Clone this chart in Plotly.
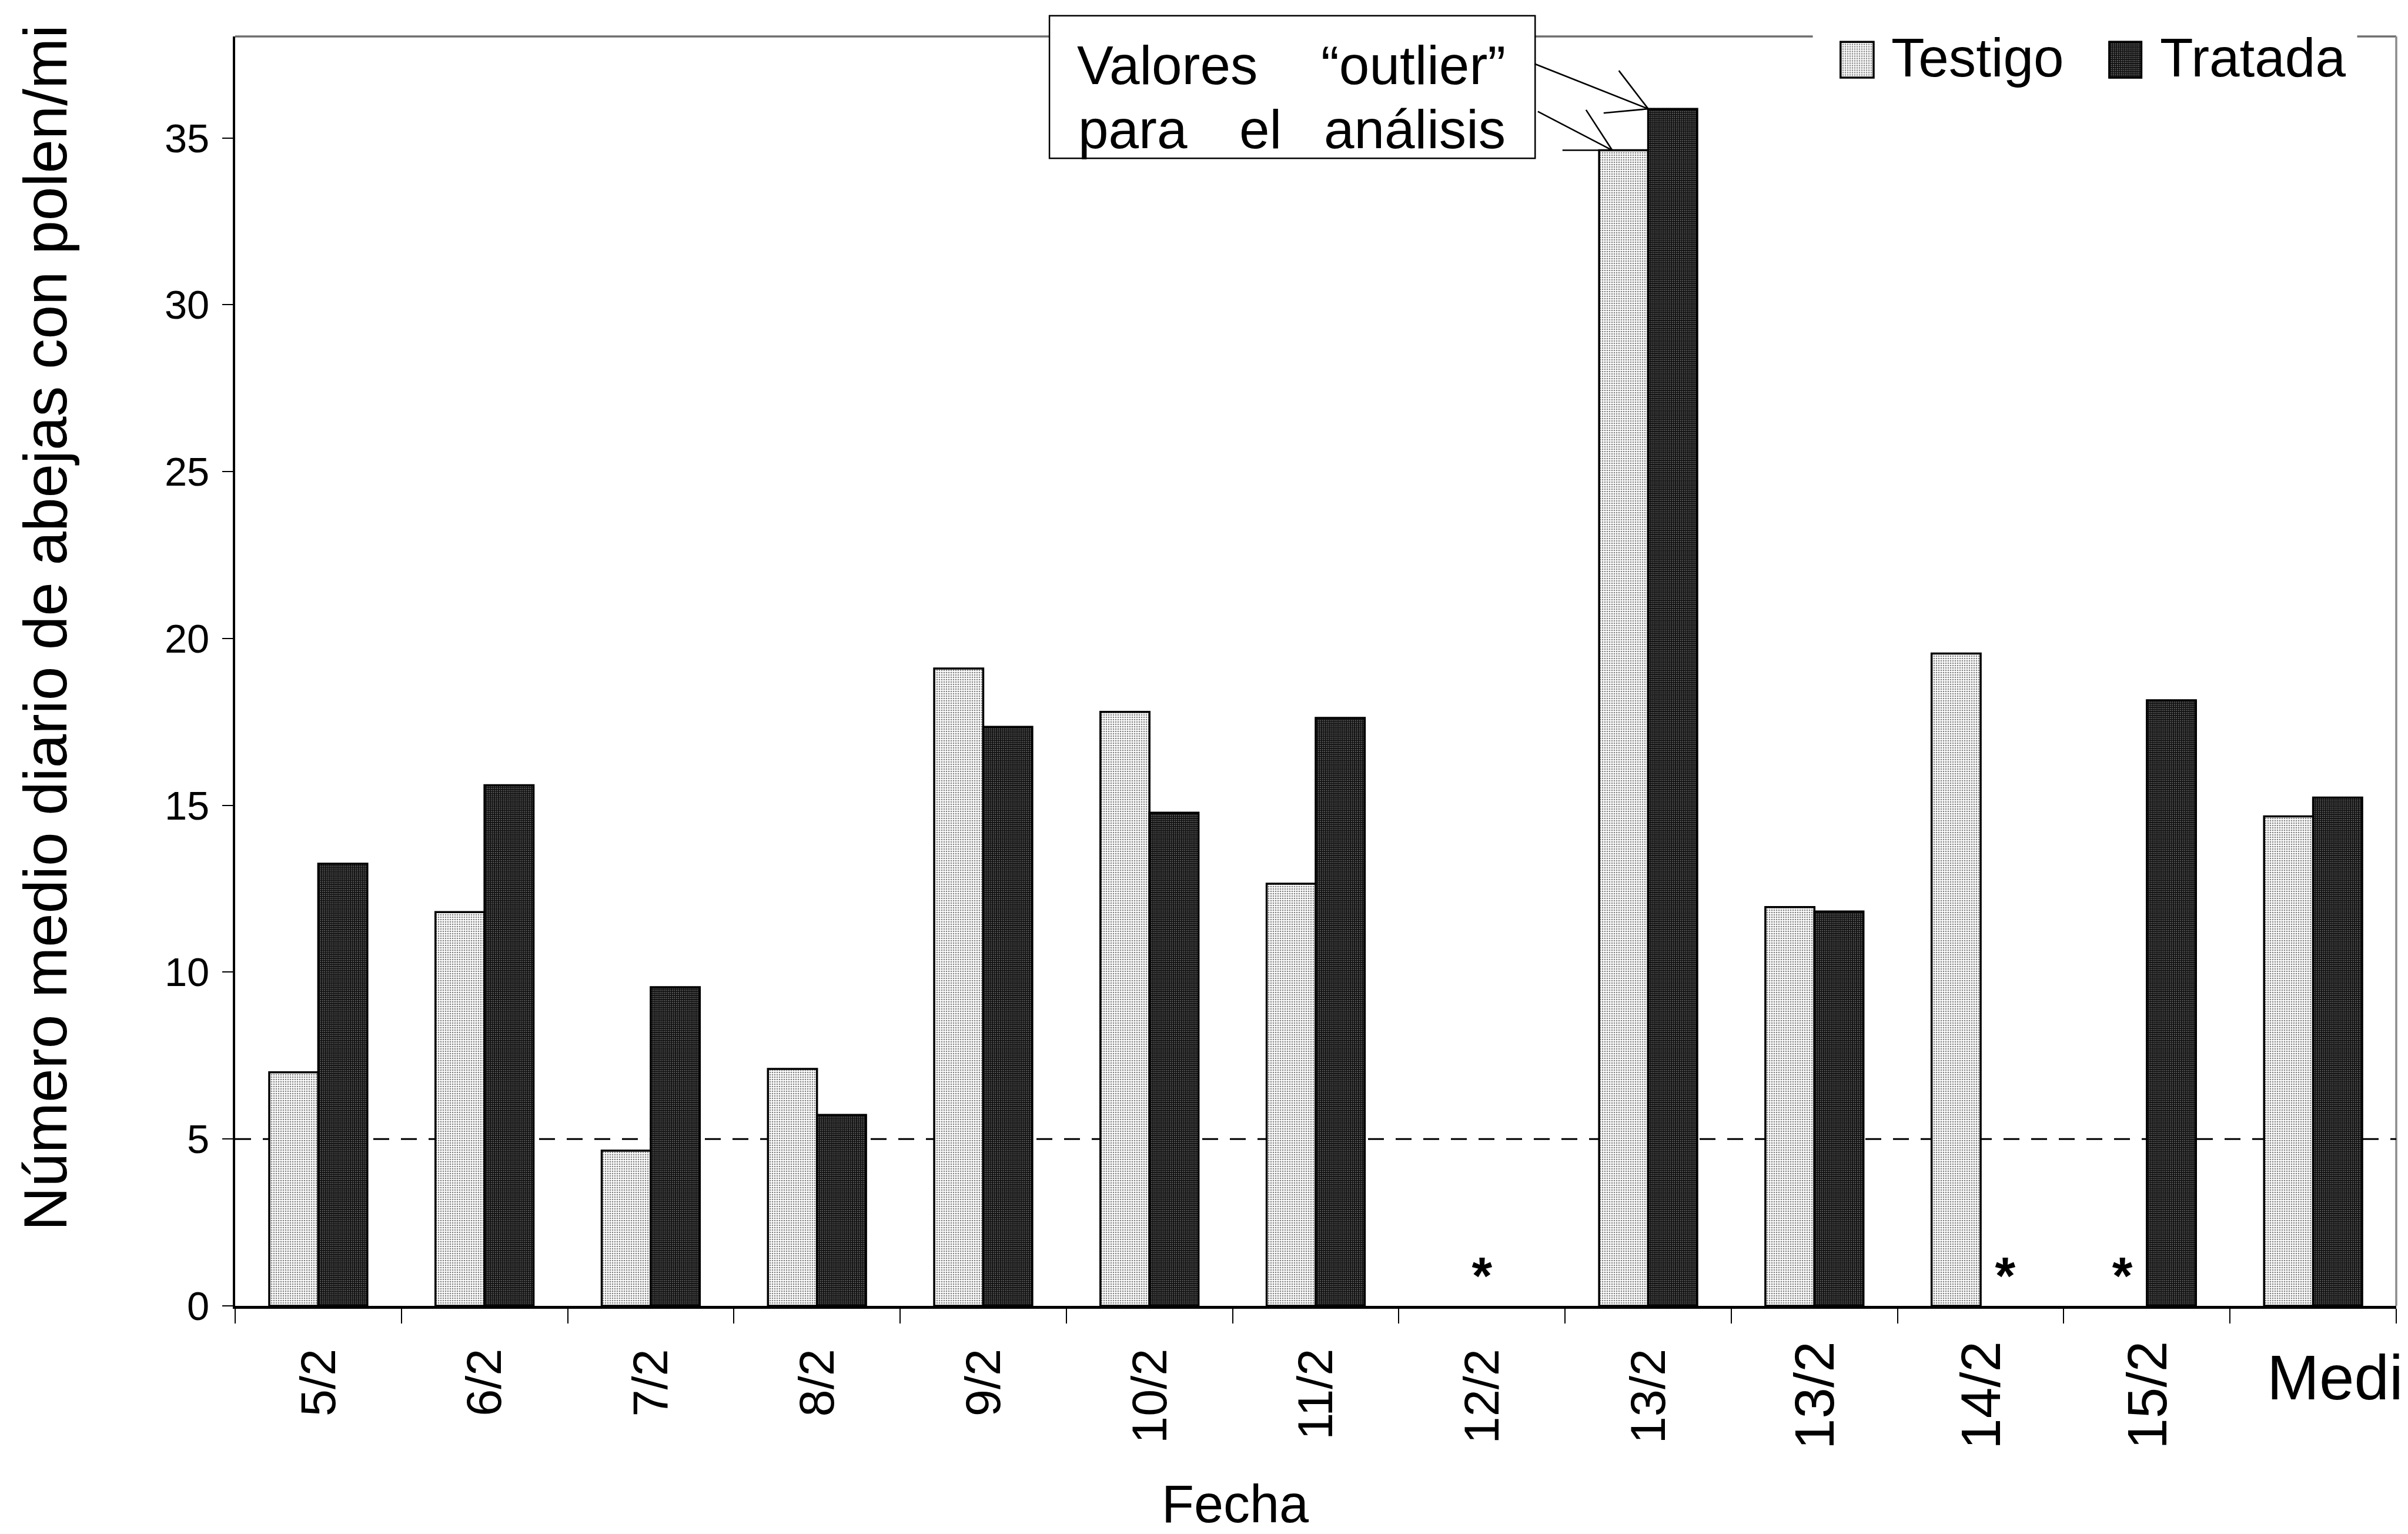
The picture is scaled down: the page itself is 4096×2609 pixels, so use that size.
import plotly.graph_objects as go

# ---- data -------------------------------------------------------------
fechas = ["5/2", "6/2", "7/2", "8/2", "9/2", "10/2", "11/2", "12/2",
          "13/2", "13/2", "14/2", "15/2", "Medi"]
testigo = [7.0, 11.8, 4.65, 7.1, 19.1, 17.8, 12.65, None,
           34.63, 11.95, 19.55, None, 14.67]
tratada = [13.25, 15.6, 9.55, 5.72, 17.35, 14.78, 17.62, None,
           35.87, 11.82, None, 18.15, 15.23]
y_ticks = [0, 5, 10, 15, 20, 25, 30, 35]
umbral = 5
y_max = 38.04

# ---- canvas geometry ----------------------------------------------------
W, H = 4096, 2609
S = W / 4596.0                     # drawing scale
ML, MR, MT, MB = 400, 20, 62, 388  # plot margins (px)
PW, PH = W - ML - MR, H - MT - MB
n = len(fechas)
UX = PW / n / S                    # unscaled px per category
UY = PH / y_max / S                # unscaled px per y unit
BARGAP = 0.41
BW = (1 - BARGAP) / 2              # width of one bar in category units

FONT = "Liberation Sans, Arial, sans-serif"


def fx(p):
    """horizontal position (unscaled px) -> paper fraction"""
    return (p * S - ML) / PW


def fy(p):
    """vertical position (unscaled px from top) -> paper fraction"""
    return 1 - (p * S - MT) / PH


def fs(em):
    return em * S


idx = list(range(n))
fig = go.Figure()

PAT_TESTIGO = dict(shape=".", fgcolor="black", bgcolor="white", size=4, solidity=0.33)
PAT_TRATADA = dict(shape=".", fgcolor="white", bgcolor="#111111", size=3.5, solidity=0.22)

fig.add_trace(go.Bar(
    x=idx, y=testigo, name="Testigo", showlegend=False,
    marker=dict(color="white", line=dict(color="black", width=3.5), pattern=PAT_TESTIGO),
))
fig.add_trace(go.Bar(
    x=idx, y=tratada, name="Tratada", showlegend=False,
    marker=dict(color="#111111", line=dict(color="black", width=3.5), pattern=PAT_TRATADA),
))

# asterisks where a value is missing
ast_x, ast_y = [], []
for i in idx:
    a, b = testigo[i], tratada[i]
    if a is None and b is None:
        ast_x.append(i)
    elif a is None:
        ast_x.append(i - BW / 2)
    elif b is None:
        ast_x.append(i + BW / 2)
    else:
        continue
    ast_y.append(0.77)
fig.add_trace(go.Scatter(
    x=ast_x, y=ast_y, mode="text", text=["*"] * len(ast_x),
    textposition="middle center", cliponaxis=False, showlegend=False,
    textfont=dict(family=FONT, size=fs(100), color="black", weight="bold"),
))

# legend swatches: one-bar mini subplots
sw_boxes = {"Testigo": (3507, 3582), "Tratada": (4020, 4093)}
sw_top, sw_bot = 74, 154
sw_style = {
    "Testigo": dict(color="white", pattern=PAT_TESTIGO),
    "Tratada": dict(color="#111111", pattern=PAT_TRATADA),
}
for k, (name, (x0, x1)) in enumerate(sw_boxes.items(), start=2):
    inset = 4
    fig.add_trace(go.Bar(
        x=[0], y=[1], width=[1], showlegend=False, cliponaxis=False,
        xaxis=f"x{k}", yaxis=f"y{k}", hoverinfo="skip",
        marker=dict(line=dict(color="black", width=7), **sw_style[name]),
    ))
    fig.layout[f"xaxis{k}"] = dict(domain=[fx(x0 + inset), fx(x1 - inset)], range=[-0.5, 0.5],
                                   visible=False, anchor=f"y{k}")
    fig.layout[f"yaxis{k}"] = dict(domain=[fy(sw_bot - inset), fy(sw_top + inset)], range=[0, 1],
                                   visible=False, anchor=f"x{k}")

shapes = []
# frame: top and right borders
shapes.append(dict(type="line", xref="paper", yref="paper", x0=0, x1=1, y0=1, y1=1,
                   line=dict(color="#6e6e6e", width=3.5), layer="below"))
shapes.append(dict(type="line", xref="paper", yref="paper", x0=1, x1=1, y0=0, y1=1,
                   line=dict(color="#8c8c8c", width=3.5), layer="below"))
# reference level
shapes.append(dict(type="line", xref="paper", yref="y", x0=0, x1=1, y0=umbral, y1=umbral,
                   line=dict(color="black", width=3, dash="27px,20px"), layer="below"))
# legend background
shapes.append(dict(type="rect", xref="paper", yref="paper",
                   x0=fx(3460), x1=fx(4499), y0=fy(185), y1=fy(40),
                   fillcolor="white", line=dict(width=0), layer="below"))
# callout box
shapes.append(dict(type="rect", xref="paper", yref="paper",
                   x0=fx(2003), x1=fx(2930), y0=fy(302), y1=fy(30),
                   fillcolor="white", line=dict(color="black", width=2.5), layer="below"))

# callout leader lines, anchored on the 13/2 bars
k13 = 8
tip_trat = (k13, tratada[k13])
tip_test = (k13 - BW, testigo[k13])
tip_test2 = (k13 - BW + 25 / UX, testigo[k13])
leaders = [
    (tip_trat, -217, -86), (tip_trat, -56, -73), (tip_trat, -85, 8),
    (tip_test2, -142, -74), (tip_test2, -50, -77), (tip_test, -70, 0),
]
for (tx, ty), dx, dy in leaders:
    shapes.append(dict(type="line", xref="x", yref="y",
                       x0=tx, y0=ty, x1=tx + dx / UX, y1=ty - dy / UY,
                       line=dict(color="black", width=2.6), layer="above"))

ann = []
# x category labels
for i, lab in enumerate(fechas[:-1]):
    late = i >= 9
    ann.append(dict(x=i, xref="x", y=fy(2557 if late else 2572), yref="paper",
                    text=lab, textangle=-90, showarrow=False,
                    xanchor="center", yanchor="top",
                    font=dict(family=FONT, size=fs(106 if late else 93), color="black")))
ann.append(dict(x=fx(4324), xref="paper", y=fy(2560), yref="paper", text=fechas[-1],
                showarrow=False, xanchor="left", yanchor="top",
                font=dict(family=FONT, size=fs(120), color="black")))
# axis titles
ann.append(dict(x=fx(2358), xref="paper", y=fy(2903 - 0.905 * 101), yref="paper", text="Fecha",
                showarrow=False, xanchor="center", yanchor="top",
                font=dict(family=FONT, size=fs(101), color="black")))
ann.append(dict(x=fx(86), xref="paper", y=fy(2351), yref="paper",
                text="Número medio diario de abejas con polen/mi", textangle=-90,
                showarrow=False, xanchor="center", yanchor="bottom",
                font=dict(family=FONT, size=fs(116), color="black")))
# legend labels
for name, xl in (("Testigo", 3608), ("Tratada", 4120)):
    ann.append(dict(x=fx(xl), xref="paper", y=fy(170), yref="paper", text=name,
                    showarrow=False, xanchor="left", yanchor="bottom",
                    font=dict(family=FONT, size=fs(104), color="black")))
# callout text (justified words)
BOX_EM = 104
box_words = [("Valores", 2053, "left", 163), ("\u201coutlier\u201d", 2876, "right", 163),
             ("para", 2056, "left", 285), ("el", 2363, "left", 285),
             ("análisis", 2876, "right", 285)]
for word, xp, anc, base in box_words:
    ann.append(dict(x=fx(xp), xref="paper", y=fy(base + 0.212 * BOX_EM), yref="paper", text=word,
                    showarrow=False, xanchor=anc, yanchor="bottom",
                    font=dict(family=FONT, size=fs(BOX_EM), color="black")))

fig.update_layout(
    width=W, height=H,
    margin=dict(l=ML, r=MR, t=MT, b=MB, pad=0),
    paper_bgcolor="white", plot_bgcolor="white",
    barmode="group", bargap=BARGAP, bargroupgap=0,
    showlegend=False,
    shapes=shapes, annotations=ann,
    xaxis=dict(range=[-0.5, n - 0.5], tickmode="array",
               tickvals=[i - 0.5 for i in range(n + 1)], ticktext=[""] * (n + 1),
               ticks="outside", ticklen=25, tickwidth=2, tickcolor="black",
               showline=True, linecolor="black", linewidth=4.5,
               showgrid=False, zeroline=False, fixedrange=True),
    yaxis=dict(range=[0, y_max], tickmode="array", tickvals=y_ticks,
               ticks="outside", ticklen=18, tickwidth=2, tickcolor="black",
               ticklabelstandoff=8,
               tickfont=dict(family=FONT, size=fs(77), color="black"),
               showline=True, linecolor="black", linewidth=4,
               showgrid=False, zeroline=False, fixedrange=True),
)

fig.write_html("out.html")
